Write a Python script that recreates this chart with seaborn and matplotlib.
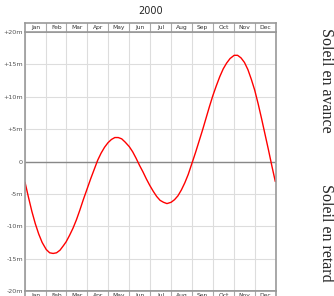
import pandas as pd
import matplotlib.pyplot as plt
import seaborn as sns

sample_days = [1, 6, 11, 16, 21, 26]
eot = [-3.2, -5.5, -7.7, -9.6, -11.2, -12.5,
       -13.6, -14.1, -14.2, -14.1, -13.7, -13.0,
       -12.4, -11.4, -10.3, -9.0, -7.5, -5.9,
       -4.1, -2.6, -1.2, 0.2, 1.3, 2.2,
       2.9, 3.4, 3.7, 3.7, 3.5, 3.0,
       2.3, 1.5, 0.5, -0.6, -1.6, -2.7,
       -3.7, -4.6, -5.4, -6.0, -6.3, -6.5,
       -6.3, -5.9, -5.3, -4.4, -3.3, -2.0,
       -0.1, 1.5, 3.2, 4.9, 6.7, 8.5,
       10.2, 11.7, 13.1, 14.3, 15.2, 15.9,
       16.4, 16.4, 16.0, 15.3, 14.2, 12.7,
       11.0, 8.9, 6.6, 4.2, 1.8, -0.7]
eot_dec31 = -3.1
months = ['Jan', 'Feb', 'Mar', 'Apr', 'May', 'Jun',
          'Jul', 'Aug', 'Sep', 'Oct', 'Nov', 'Dec']
yticks = [20, 15, 10, 5, 0, -5, -10, -15, -20]
ylabels = ['+20m', '+15m', '+10m', '+5m', '0', '-5m', '-10m', '-15m', '-20m']

dates = [f'2000-{m:02d}-{d:02d}' for m in range(1, 13) for d in sample_days] + ['2000-12-31']
df = pd.DataFrame({'date': pd.to_datetime(dates), 'eot': eot + [eot_dec31]})
df['day'] = df['date'].dt.dayofyear - 1

starts = pd.date_range('2000-01-01', periods=13, freq='MS').dayofyear - 1
starts = list(starts[:12]) + [366]
mids = [(starts[i] + starts[i + 1]) / 2 for i in range(12)]

sns.set_style('white')
W, H = 334, 296
fig = plt.figure(figsize=(W / 100, H / 100), dpi=100)

L, R, T, B = 25, 276, 32, 291
ax = fig.add_axes([L / W, 1 - B / H, (R - L) / W, (B - T) / H])
ax.grid(True, color='#dddddd', lw=0.8)
ax.axhline(0, color='#888888', lw=1)
sns.lineplot(data=df, x='day', y='eot', color='red', lw=1, ax=ax)
ax.set_xlim(0, 366)
ax.set_ylim(-20, 20)
ax.set_xticks(starts)
ax.set_xticklabels([])
ax.set_yticks(yticks)
ax.set_yticklabels(ylabels, fontsize=4.6, color='#555555')
ax.tick_params(length=0, pad=1.5)
ax.set_xlabel('')
ax.set_ylabel('')
for s in ax.spines.values():
    s.set_color('#999999')
    s.set_linewidth(1.2)


def month_band(y0):
    b = fig.add_axes([L / W, 1 - (y0 + 9) / H, (R - L) / W, 9 / H])
    b.set_xlim(0, 366)
    b.set_ylim(0, 1)
    b.set_xticks([])
    b.set_yticks([])
    for s in b.spines.values():
        s.set_color('#999999')
        s.set_linewidth(1.2)
    for x in starts[1:-1]:
        b.axvline(x, color='#aaaaaa', lw=0.8)
    for m, x in zip(months, mids):
        b.text(x, 0.5, m, ha='center', va='center', fontsize=4.3, color='#333333')


month_band(23)
month_band(B)

fig.text((L + R) / 2 / W, 1 - 11 / H, '2000', ha='center', va='center', fontsize=7)
fig.text(326 / W, 1 - 80 / H, 'Soleil en avance', rotation=-90, ha='center', va='center',
         fontsize=11.5, family='Liberation Serif')
fig.text(326 / W, 1 - 233 / H, 'Soleil en retard', rotation=-90, ha='center', va='center',
         fontsize=11.5, family='Liberation Serif')

fig.savefig('out.png', dpi=100)
